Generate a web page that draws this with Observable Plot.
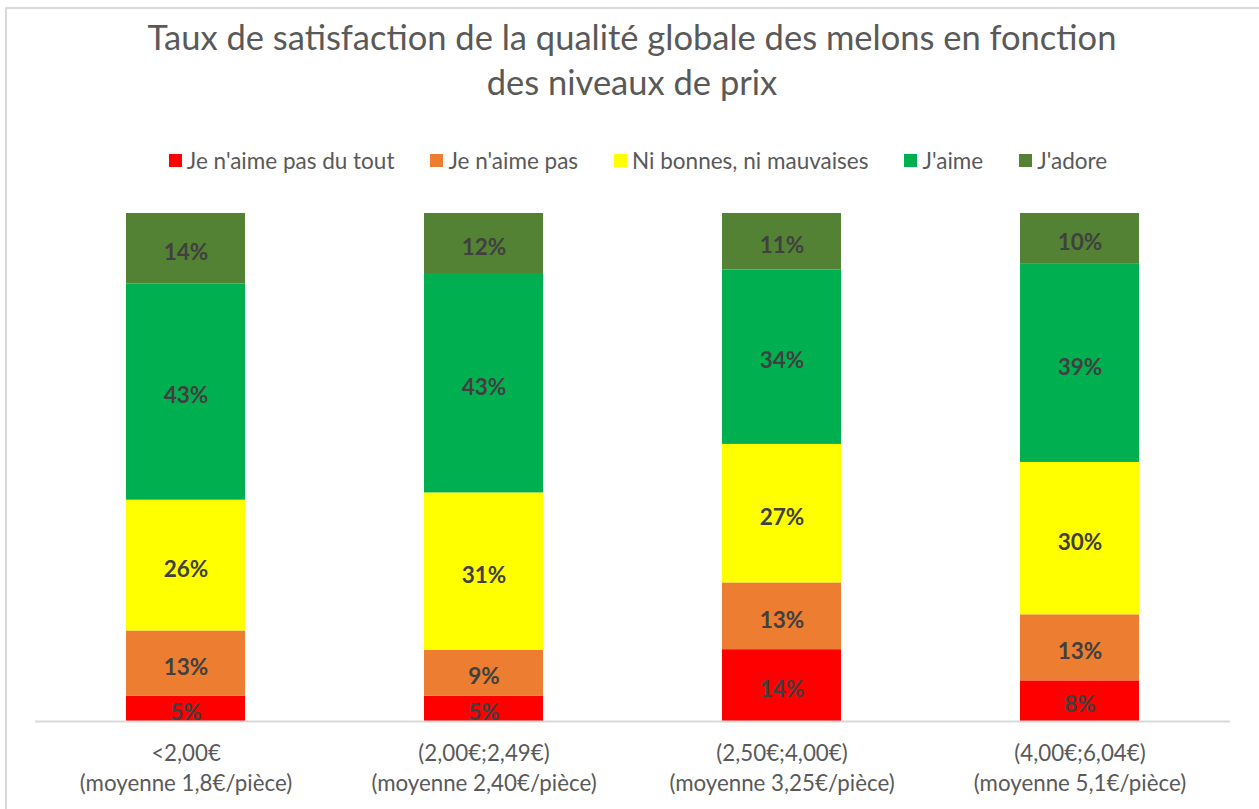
<!DOCTYPE html>
<html>
<head>
<meta charset="utf-8">
<script src="https://cdn.jsdelivr.net/npm/d3@7"></script>
<script src="https://cdn.jsdelivr.net/npm/@observablehq/plot@0.6"></script>
<style>
  html, body { margin: 0; padding: 0; background: #fff; width: 1259px; height: 809px; overflow: hidden; }
  #frame { position: absolute; left: 5px; top: 7px; width: 1270px; height: 820px; border-left: 2px solid #d9d9d9; border-top: 2px solid #d9d9d9; box-sizing: border-box; z-index: 5; pointer-events: none; }
  #title { position: absolute; left: 0; top: 14px; width: 1264px; text-align: center; font-family: Lato, sans-serif; font-size: 34.5px; line-height: 45px; color: #595959; }
  #legend { position: absolute; left: 6px; top: 147px; width: 1264px; display: flex; justify-content: center; gap: 36px; font-family: Lato, sans-serif; font-size: 22.5px; color: #595959; }
  #legend .item { display: flex; align-items: center; gap: 5px; }
  #legend .sw { width: 13px; height: 13px; display: inline-block; }
  #chart { position: absolute; left: 0; top: 190px; }
</style>
</head>
<body>
<div id="frame"></div>
<div id="title">Taux de satisfaction de la qualité globale des melons en fonction<br>des niveaux de prix</div>
<div id="legend"></div>
<div id="chart"></div>
<script>
const categories = [
  "<2,00€\n(moyenne 1,8€/pièce)",
  "(2,00€;2,49€)\n(moyenne 2,40€/pièce)",
  "(2,50€;4,00€)\n(moyenne 3,25€/pièce)",
  "(4,00€;6,04€)\n(moyenne 5,1€/pièce)"
];
const series = ["Je n'aime pas du tout", "Je n'aime pas", "Ni bonnes, ni mauvaises", "J'aime", "J'adore"];
const colors = ["#FF0000", "#ED7D31", "#FFFF00", "#00B050", "#548235"];
const pasDuTout = [5, 5, 14, 8];
const pas = [13, 9, 13, 13];
const niNi = [26, 31, 27, 30];
const aime = [43, 43, 34, 39];
const adore = [14, 12, 11, 10];

const seriesValues = [pasDuTout, pas, niNi, aime, adore];
const data = [];
series.forEach((s, si) => {
  categories.forEach((c, ci) => {
    data.push({cat: c, serie: s, value: seriesValues[si][ci]});
  });
});

const legend = document.getElementById("legend");
series.forEach((s, i) => {
  const it = document.createElement("div");
  it.className = "item";
  const sw = document.createElement("span");
  sw.className = "sw";
  sw.style.background = colors[i];
  const t = document.createElement("span");
  t.textContent = s;
  it.appendChild(sw); it.appendChild(t);
  legend.appendChild(it);
});

const chart = Plot.plot({
  width: 1259,
  height: 610,
  marginLeft: 35,
  marginRight: 29,
  marginTop: 23,
  marginBottom: 79,
  x: {domain: categories, paddingInner: 0.6, paddingOuter: 0.3, label: null},
  y: {axis: null},
  color: {domain: series, range: colors},
  style: {fontFamily: "Lato, sans-serif", background: "transparent"},
  marks: [
    Plot.barY(data, Plot.stackY({x: "cat", y: "value", fill: "serie", offset: "normalize", order: series})),
    Plot.text(data, Plot.stackY({x: "cat", y: "value", z: "serie", offset: "normalize", order: series,
      text: d => d.value + "%", fill: "#404040", fontWeight: "bold", fontSize: 22.5, dy: 4})),
    Plot.ruleY([0], {stroke: "#d9d9d9", strokeWidth: 2}),
    Plot.axisX({tickSize: 0, tickPadding: 18, fontSize: 22.3, lineHeight: 1.35, fill: "#595959", label: null})
  ]
});
document.getElementById("chart").appendChild(chart);
</script>
</body>
</html>
